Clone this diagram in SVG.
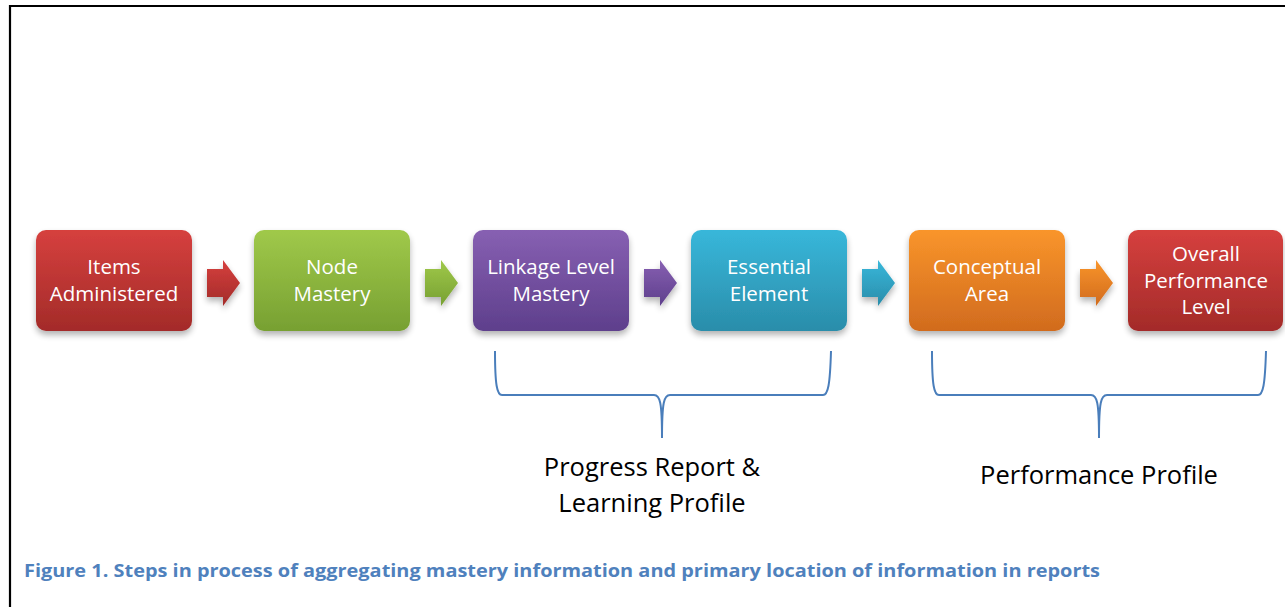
<svg xmlns="http://www.w3.org/2000/svg" width="1285" height="607" viewBox="0 0 1285 607">
<style>
.box{stroke:none;filter:url(#sh)}
.bt{font-family:"Open Sans","Liberation Sans",sans-serif;font-size:20.5px;fill:#ffffff;text-anchor:middle}
.br{fill:none;stroke:#4A7EBB;stroke-width:2}
.lab{font-family:"Open Sans","Liberation Sans",sans-serif;font-size:25.5px;fill:#000;text-anchor:middle}
.cap{font-family:"Open Sans","Liberation Sans",sans-serif;font-size:17.5px;font-weight:bold;fill:#4F81BD}
.arr{filter:url(#sh)}
</style>
<defs>
<filter id="sh" x="-20%" y="-20%" width="140%" height="150%">
<feGaussianBlur in="SourceAlpha" stdDeviation="3"/>
<feOffset dx="0" dy="4" result="b"/>
<feComponentTransfer><feFuncA type="linear" slope="0.3"/></feComponentTransfer>
<feMerge><feMergeNode/><feMergeNode in="SourceGraphic"/></feMerge>
</filter>
<linearGradient id="gr" x1="0" y1="0" x2="0" y2="1"><stop offset="0" stop-color="#D6403E"/><stop offset="1" stop-color="#A32B29"/></linearGradient>
<linearGradient id="gg" x1="0" y1="0" x2="0" y2="1"><stop offset="0" stop-color="#A0C94A"/><stop offset="1" stop-color="#77A032"/></linearGradient>
<linearGradient id="gp" x1="0" y1="0" x2="0" y2="1"><stop offset="0" stop-color="#8760B2"/><stop offset="1" stop-color="#5E3F8C"/></linearGradient>
<linearGradient id="gc" x1="0" y1="0" x2="0" y2="1"><stop offset="0" stop-color="#38B7DA"/><stop offset="1" stop-color="#2A8DAA"/></linearGradient>
<linearGradient id="go" x1="0" y1="0" x2="0" y2="1"><stop offset="0" stop-color="#F9952B"/><stop offset="1" stop-color="#D16B1E"/></linearGradient>
<path id="ah" d="M0,9 H16 V0 L33,23 L16,46 V37 H0 Z"/>
</defs>
<rect width="1285" height="607" fill="#ffffff"/>
<path d="M10,607 V6 H1285" fill="none" stroke="#000" stroke-width="2.2"/>

<g id="n1"><rect class="box" x="36" y="230" width="156" height="101" rx="10" fill="url(#gr)"/>
<text class="bt" x="114" y="274">Items</text><text class="bt" x="114" y="301">Administered</text></g>
<g id="n2"><rect class="box" x="254" y="230" width="156" height="101" rx="10" fill="url(#gg)"/>
<text class="bt" x="332" y="274">Node</text><text class="bt" x="332" y="301">Mastery</text></g>
<g id="n3"><rect class="box" x="473" y="230" width="156" height="101" rx="10" fill="url(#gp)"/>
<text class="bt" x="551" y="274">Linkage Level</text><text class="bt" x="551" y="301">Mastery</text></g>
<g id="n4"><rect class="box" x="691" y="230" width="156" height="101" rx="10" fill="url(#gc)"/>
<text class="bt" x="769" y="274">Essential</text><text class="bt" x="769" y="301">Element</text></g>
<g id="n5"><rect class="box" x="909" y="230" width="156" height="101" rx="10" fill="url(#go)"/>
<text class="bt" x="987" y="274">Conceptual</text><text class="bt" x="987" y="301">Area</text></g>
<g id="n6"><rect class="box" x="1128" y="230" width="155" height="101" rx="10" fill="url(#gr)"/>
<text class="bt" x="1206" y="261">Overall</text><text class="bt" x="1206" y="288">Performance</text><text class="bt" x="1206" y="314">Level</text></g>

<g id="connectors">
<use href="#ah" class="arr" x="207" y="260" fill="url(#gr)"/>
<use href="#ah" class="arr" x="425" y="260" fill="url(#gg)"/>
<use href="#ah" class="arr" x="644" y="260" fill="url(#gp)"/>
<use href="#ah" class="arr" x="862" y="260" fill="url(#gc)"/>
<use href="#ah" class="arr" x="1080" y="260" fill="url(#go)"/>
</g>

<g id="brace1">
<path class="br" d="M495,351 C495,385 497,395 502,395 H654 C660,395 662,402 662,438 C662,402 664,395 670,395 H823 C828,395 830,385 831,351"/>
<text class="lab" x="652" y="476">Progress Report &amp;</text>
<text class="lab" x="652" y="512">Learning Profile</text>
</g>
<g id="brace2">
<path class="br" d="M932,351 C932,385 934,395 939,395 H1091 C1097,395 1099,402 1099,438 C1099,402 1101,395 1107,395 H1258 C1263,395 1265,385 1266,351"/>
<text class="lab" x="1099" y="484">Performance Profile</text>
</g>

<text class="cap" x="24" y="577" textLength="1076" lengthAdjust="spacingAndGlyphs">Figure 1. Steps in process of aggregating mastery information and primary location of information in reports</text>
</svg>
